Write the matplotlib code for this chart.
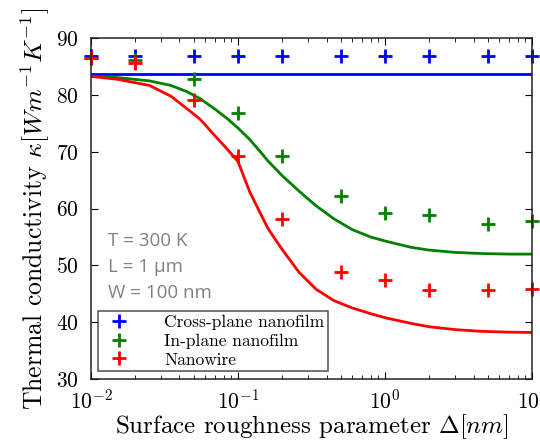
import numpy as np
import matplotlib
matplotlib.use("Agg")
import matplotlib.pyplot as plt

plt.rcParams['font.family'] = 'serif'
plt.rcParams['font.serif'] = ['cmr10']
plt.rcParams['mathtext.fontset'] = 'cm'
plt.rcParams['axes.formatter.use_mathtext'] = True
plt.rcParams['axes.unicode_minus'] = False

# sample (marker) positions
x_pts = [0.01, 0.02, 0.05, 0.1, 0.2, 0.5, 1, 2, 5, 10]
cross_pts = [86.8, 86.8, 86.8, 86.8, 86.8, 86.8, 86.8, 86.8, 86.8, 86.8]
inplane_pts = [86.6, 86.2, 82.9, 76.9, 69.3, 62.2, 59.3, 58.8, 57.3, 57.8]
wire_pts = [86.6, 85.6, 79.1, 69.3, 58.1, 48.8, 47.4, 45.7, 45.7, 45.9]

# model curves
x_line = [0.01, 0.015, 0.025, 0.035, 0.045, 0.055, 0.07, 0.085, 0.1, 0.12, 0.14, 0.16,
          0.2, 0.26, 0.34, 0.45, 0.6, 0.8, 1, 1.5, 2, 3, 4.5, 7, 10]
cross_line = [83.7] * len(x_line)
inplane_line = [83.3, 83.1, 82.5, 81.7, 80.6, 79.4, 77.5, 75.8, 74.2, 72.2, 70.2, 68.4,
                65.8, 63.1, 60.5, 58.2, 56.3, 55.0, 54.3, 53.2, 52.7, 52.3, 52.1, 52.0, 52.0]
wire_line = [83.3, 82.8, 81.7, 79.8, 77.6, 75.8, 72.8, 70.4, 68.3, 63.0, 59.5, 56.5,
             52.8, 48.8, 45.8, 43.8, 42.5, 41.5, 40.8, 39.8, 39.2, 38.7, 38.4, 38.25, 38.2]

labels = ['Cross-plane nanofilm', 'In-plane nanofilm', 'Nanowire']
colors = ['#0000ff', '#008000', '#ff0000']
annot = ['T = 300 K', 'L = 1 µm', 'W = 100 nm']

fig = plt.figure(figsize=(5.4, 4.42), dpi=100)
ax = fig.add_axes([0.1685, 0.1425, 0.8167, 0.7708])

for yl, c in zip([cross_line, inplane_line, wire_line], colors):
    ax.plot(x_line, yl, color=c, lw=2)
handles = []
for yp, c, lab in zip([cross_pts, inplane_pts, wire_pts], colors, labels):
    h, = ax.plot(x_pts, yp, '+', color=c, ms=10, mew=2, linestyle='none', label=lab, clip_on=False)
    handles.append(h)

ax.set_xscale('log')
ax.set_xlim(0.01, 10)
ax.set_ylim(30, 90)
ax.set_yticks([30, 40, 50, 60, 70, 80, 90])
ax.tick_params(which='both', direction='in', top=True, right=True, labelsize=15.5)
ax.tick_params(axis='y', pad=9)
ax.tick_params(axis='x', pad=7)
ax.tick_params(which='major', length=5)
ax.tick_params(which='minor', length=3)
for s in ax.spines.values():
    s.set_linewidth(1.1)
    s.set_color('#222222')

ax.set_xlabel(r'Surface roughness parameter $\Delta[nm]$', fontsize=18, labelpad=0)
ax.set_ylabel(r'Thermal conductivity $\kappa[Wm^{-1}K^{-1}]$', fontsize=18.5, labelpad=3)

leg = ax.legend(handles=handles, loc='lower left', fontsize=12.5, frameon=True, fancybox=False,
                edgecolor='#222222', borderpad=0.2, handletextpad=1.6, labelspacing=0.2,
                borderaxespad=0, bbox_to_anchor=(0.017, 0.0235))
leg.get_frame().set_linewidth(1.1)

for txt, yy in zip(annot, [0.39, 0.313, 0.238]):
    ax.text(0.038, yy, txt, transform=ax.transAxes, family='Open Sans', fontsize=13.5,
            color='#808080', va='baseline', ha='left')

fig.savefig('out.png', dpi=100)
